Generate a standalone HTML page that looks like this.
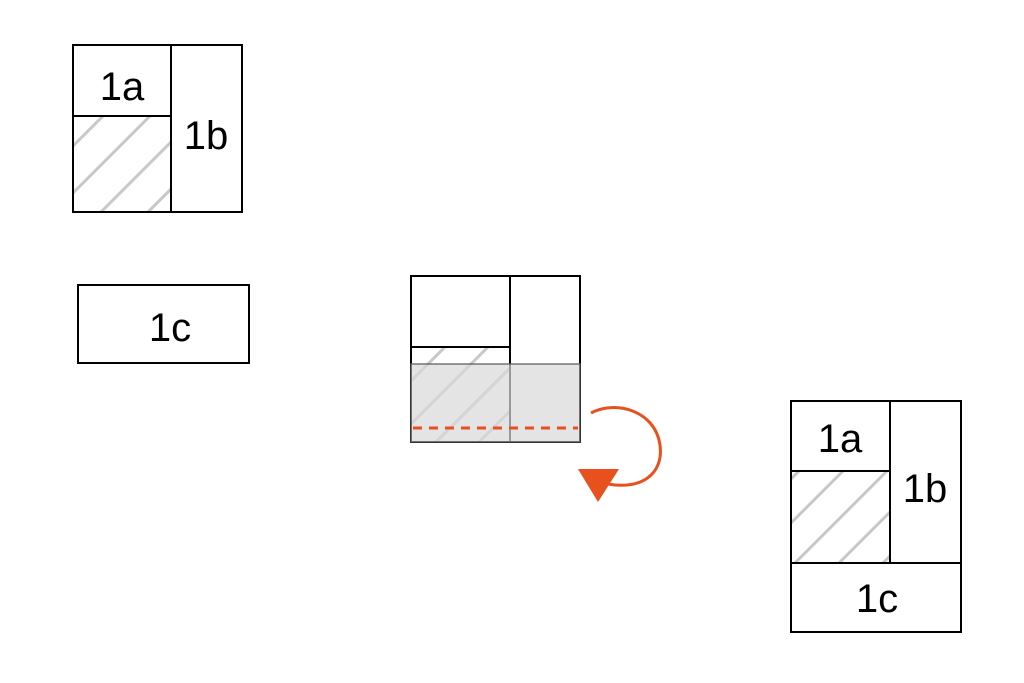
<!DOCTYPE html>
<html><head><style>
html,body{margin:0;padding:0;background:#fff;overflow:hidden;width:1024px;height:683px}
svg{display:block}
</style></head><body>
<svg width="1024" height="683" viewBox="0 0 1024 683" xmlns="http://www.w3.org/2000/svg">
<defs>
<clipPath id="c1"><rect x="73" y="116" width="98" height="96"/></clipPath>
<clipPath id="c2"><rect x="411" y="347" width="99" height="95"/></clipPath>
<clipPath id="c3"><rect x="791" y="471" width="99" height="92"/></clipPath>
</defs>
<g stroke="#c8c8c8" stroke-width="3" clip-path="url(#c1)">
<line x1="0" y1="219" x2="219" y2="0"/><line x1="0" y1="266" x2="266" y2="0"/><line x1="0" y1="313" x2="313" y2="0"/><line x1="0" y1="360" x2="360" y2="0"/>
</g>
<g stroke="#c8c8c8" stroke-width="3" clip-path="url(#c2)">
<line x1="0" y1="792" x2="792" y2="0"/><line x1="0" y1="835" x2="835" y2="0"/><line x1="0" y1="878" x2="878" y2="0"/><line x1="0" y1="921" x2="921" y2="0"/>
</g>
<g stroke="#c8c8c8" stroke-width="3" clip-path="url(#c3)">
<line x1="0" y1="1270" x2="1270" y2="0"/><line x1="0" y1="1314" x2="1314" y2="0"/><line x1="0" y1="1358" x2="1358" y2="0"/><line x1="0" y1="1402" x2="1402" y2="0"/><line x1="0" y1="1446" x2="1446" y2="0"/>
</g>
<g fill="none" stroke="#000" stroke-width="2">
<rect x="73" y="45" width="169" height="167"/>
<line x1="171" y1="45" x2="171" y2="212"/>
<line x1="73" y1="116" x2="171" y2="116"/>
<rect x="78" y="285" width="171" height="78"/>
<rect x="411" y="276" width="169" height="166"/>
<line x1="510" y1="276" x2="510" y2="442"/>
<line x1="411" y1="347" x2="510" y2="347"/>
<rect x="791" y="401" width="170" height="231"/>
<line x1="890" y1="401" x2="890" y2="563"/>
<line x1="791" y1="471" x2="890" y2="471"/>
<line x1="791" y1="563" x2="961" y2="563"/>
</g>
<rect x="411" y="364" width="169" height="78" fill="#d8d8d8" fill-opacity="0.7" stroke="#555" stroke-opacity="0.6" stroke-width="2"/>
<line x1="413" y1="428" x2="578" y2="428" stroke="#e8501e" stroke-width="3" stroke-dasharray="9,7"/>
<path d="M591 413 C615 400 655 410 660 445 C664 475 640 490 608 484" fill="none" stroke="#e8501e" stroke-width="3"/>
<polygon points="578,469 619,469 598,502" fill="#e8501e"/>
<g font-family="Liberation Sans, sans-serif" font-size="40" fill="#000" text-anchor="middle">
<text x="122" y="100">1a</text>
<text x="206" y="149">1b</text>
<text x="170" y="341">1c</text>
<text x="840" y="452">1a</text>
<text x="925" y="502">1b</text>
<text x="877" y="612">1c</text>
</g>
</svg>
</body></html>
